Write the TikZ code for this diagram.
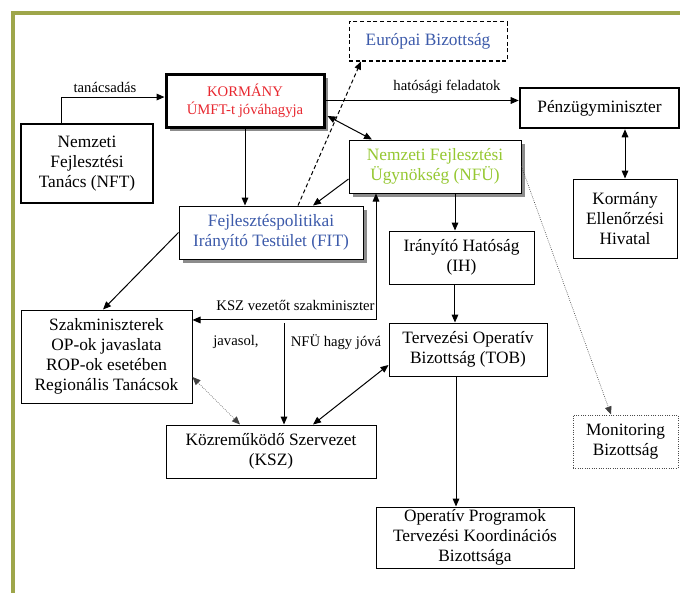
\documentclass[tikz,border=0pt]{standalone}
\usepackage{fontspec}
\setmainfont{Liberation Serif}
\usetikzlibrary{arrows.meta,shadows}
\definecolor{framecol}{RGB}{158,166,74}
\definecolor{kred}{RGB}{232,40,48}
\definecolor{kblue}{RGB}{60,90,170}
\definecolor{kgreen}{RGB}{150,200,50}
\begin{document}
\begin{tikzpicture}[x=0.75pt,y=-0.75pt,
  box/.style={draw, line width=0.75pt, align=center, inner sep=0pt, fill=white,
    font=\fontsize{13}{15}\selectfont},
  shad/.style={drop shadow={shadow xshift=3pt,shadow yshift=-3pt,fill=black!45,opacity=1}},
  arr/.style={-{Triangle[length=6pt,width=5pt]}, line width=0.75pt},
  arrtwo/.style={{Triangle[length=6pt,width=5pt]}-{Triangle[length=6pt,width=5pt]}, line width=0.75pt},
  dotarr/.style={{Triangle[length=6pt,width=5pt]}-{Triangle[length=6pt,width=5pt]}, line width=0.5pt, densely dotted, draw=black!75},
  lbl/.style={font=\fontsize{11}{13}\selectfont, inner sep=0pt}]
\useasboundingbox (0,0) rectangle (680,592);
% frame
\draw[framecol, line width=2.4pt] (13,600) |- (690,13);

% boxes
\node[box, shad, line width=2.25pt, minimum width=118.5pt, minimum height=39.75pt,
  text=kred, font=\fontsize{11}{13.5}\selectfont] (korm) at (245,100.5) {KORMÁNY\\ÚMFT-t jóváhagyja};
\node[box, line width=1.6pt, minimum width=99pt, minimum height=59.25pt] (nft) at (87,163.5) {Nemzeti\\Fejlesztési\\Tanács (NFT)};
\node[box, shad, minimum width=138pt, minimum height=39.75pt, text=kblue] (fit) at (271,232.5) {Fejlesztéspolitikai\\Irányító Testület (FIT)};
\node[box, dashed, dash pattern=on 3pt off 2pt, minimum width=118.5pt, minimum height=29.25pt, text=kblue] (eb) at (428,41.5) {Európai Bizottság};
\node[box, line width=1.9pt, minimum width=119.25pt, minimum height=30pt] (pm) at (599.5,108) {Pénzügyminiszter};
\node[box, shad, minimum width=129pt, minimum height=39.75pt, text=kgreen] (nfu) at (435,166.5) {Nemzeti Fejlesztési\\Ügynökség (NFÜ)};
\node[box, minimum width=78pt, minimum height=59.25pt] (keh) at (625,218.5) {Kormány\\Ellenőrzési\\Hivatal};
\node[box, minimum width=108.75pt, minimum height=39.75pt] (ih) at (461.5,257.5) {Irányító Hatóság\\(IH)};
\node[box, minimum width=128.25pt, minimum height=69.75pt] (szak) at (106.5,356.5) {Szakminiszterek\\OP-ok javaslata\\ROP-ok esetében\\Regionális Tanácsok};
\node[box, minimum width=157.5pt, minimum height=39.75pt] (ksz) at (271,451.5) {Közreműködő Szervezet\\(KSZ)};
\node[box, minimum width=118.5pt, minimum height=39.75pt] (tob) at (468,349.5) {Tervezési Operatív\\Bizottság (TOB)};
\node[box, densely dotted, draw=black!70, minimum width=78.75pt, minimum height=39.75pt] (mb) at (625.5,441.5) {Monitoring\\Bizottság};
\node[box, minimum width=148.5pt, minimum height=45.75pt] (opt) at (475,537.5) {Operatív Programok\\Tervezési Koordinációs\\Bizottsága};

% labels
\node[lbl] (l1) at (105,87) {tanácsadás};
\node[lbl] (l2) at (447,87) {hatósági feladatok};
\node[lbl] (l3) at (295.5,305) {KSZ vezetőt szakminiszter};
\node[lbl] (l4) at (236,342) {javasol,};
\node[lbl] (l5) at (336,342) {NFÜ hagy jóvá};

% connectors
\draw[arr] ([xshift=-19.5pt]nft.north) |- ([yshift=2.6pt]korm.west);
\draw[arr] (korm.east) -- (korm.east -| pm.west);
\draw[arr] (korm.south) -- (korm.south |- fit.north);
\draw[arr, dashed, dash pattern=on 3pt off 2pt] ([xshift=20.25pt]fit.north) -- ([xshift=-50.25pt]eb.south);
\draw[arrtwo] ([xshift=1.5pt,yshift=-11.6pt]korm.east) -- ([xshift=-47.25pt]nfu.north);
\draw[arr] ([yshift=-9.4pt]nfu.west) -- ([xshift=31.5pt]fit.north);
\draw[arr] (fit.west) -- ([xshift=-2.6pt]szak.north);
\draw[arr] ([xshift=15pt]nfu.south) -- ([xshift=15pt]nfu.south |- ih.north);
\draw[arr] ([xshift=-4.9pt]ih.south) -- ([xshift=-4.9pt]ih.south |- tob.north);
\draw[arr] ([xshift=-9pt]tob.south) -- ([xshift=-9pt]tob.south |- opt.north);
\draw[arrtwo] (keh.north |- pm.south) -- (keh.north);
\draw[-{Triangle[length=6pt,width=5pt]}, line width=0.5pt, densely dotted, draw=black!75] (nfu.east) -- ([xshift=-10.9pt]mb.north);
\draw[arrtwo] ([xshift=31.5pt]ksz.north) -- ([yshift=-11.6pt]tob.west);
\draw[dotarr] ([yshift=-15.4pt]szak.east) -- ([xshift=-23.25pt]ksz.north);
\draw[arrtwo] ([yshift=27.4pt]szak.east) -| ([xshift=-44.25pt]nfu.south);
\coordinate (j) at (284,323);
\draw[arr] (j) -- (j |- ksz.north);
\end{tikzpicture}
\end{document}
